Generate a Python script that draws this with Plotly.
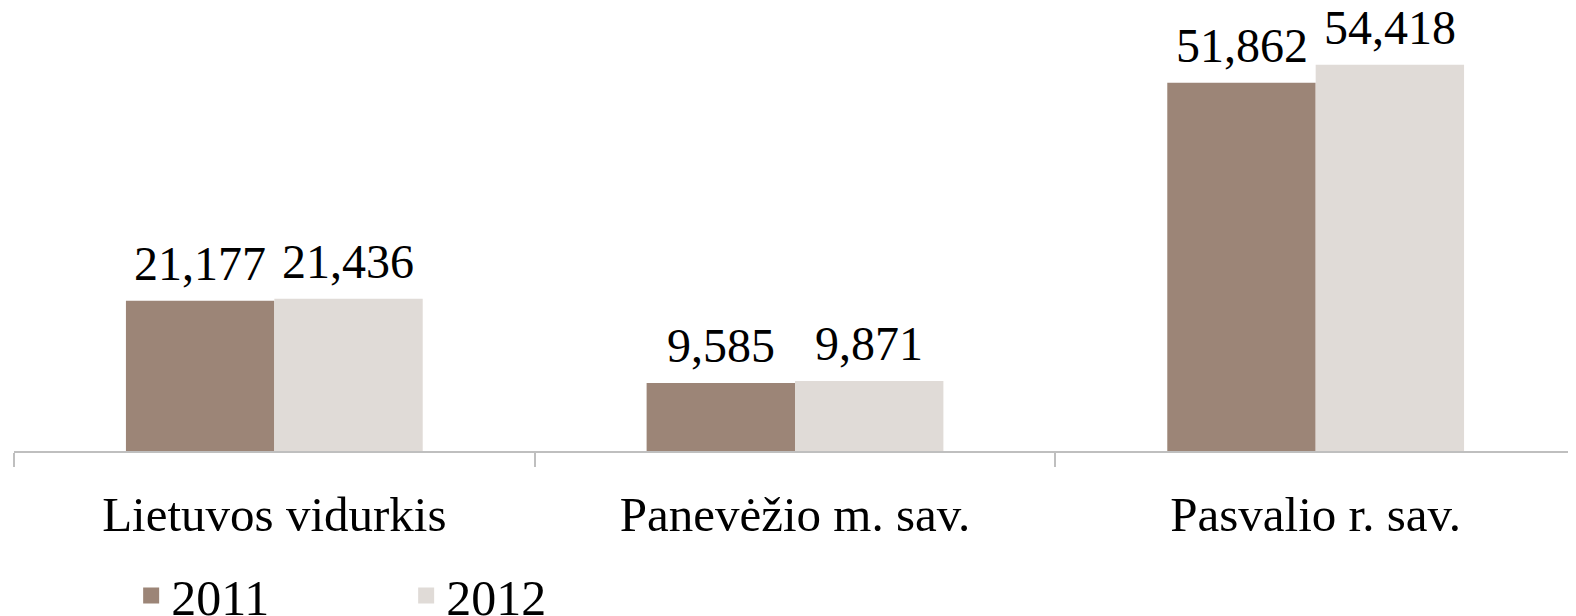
import plotly.graph_objects as go

categories = ["Lietuvos vidurkis", "Panevėžio m. sav.", "Pasvalio r. sav."]
years = ["2011", "2012"]
values_2011 = [21.177, 9.585, 51.862]
values_2012 = [21.436, 9.871, 54.418]
colors = ["#9C8577", "#E0DBD7"]

FONT = "Liberation Serif"

fig = go.Figure()
for yr, vals, col in zip(years, [values_2011, values_2012], colors):
    fig.add_trace(go.Bar(
        x=categories, y=vals, name=yr, marker=dict(color=col, line=dict(width=0)),
        showlegend=False,
    ))
    fig.add_trace(go.Scatter(
        x=[None], y=[None], mode="markers", name=yr,
        marker=dict(symbol="square", size=27, color=col),
    ))

# value labels above each bar
for shift, vals in zip([-74, 74], [values_2011, values_2012]):
    for c, v in zip(categories, vals):
        fig.add_annotation(
            x=c, y=v, xref="x", yref="y", text=f"{v:.3f}".replace(".", ","),
            showarrow=False, xshift=shift, yshift=9, yanchor="bottom",
            font=dict(family=FONT, size=48, color="#000000"),
        )

fig.update_layout(
    width=1576, height=616,
    barmode="group", bargap=0.43, bargroupgap=0,
    plot_bgcolor="#FFFFFF", paper_bgcolor="#FFFFFF",
    margin=dict(l=6, r=8, t=0, b=173, autoexpand=False),
    font=dict(family=FONT, size=49, color="#000000"),
    legend=dict(orientation="h", x=0.075, xanchor="left", y=-0.326, yanchor="middle",
                yref="paper", entrywidth=230, entrywidthmode="pixels",
                itemsizing="trace", font=dict(family=FONT, size=50),
                bgcolor="rgba(0,0,0,0)"),
    xaxis=dict(showline=True, linecolor="#BFBFBF", linewidth=1.5,
               ticks="outside", ticklen=14, tickcolor="#BFBFBF", tickwidth=1.5,
               tickson="boundaries", ticklabelstandoff=19,
               tickfont=dict(family=FONT, size=49, color="#000000"),
               showgrid=False, zeroline=False),
    yaxis=dict(range=[0, 62.4], visible=False, showgrid=False, zeroline=False),
)

fig.write_html("out.html")
